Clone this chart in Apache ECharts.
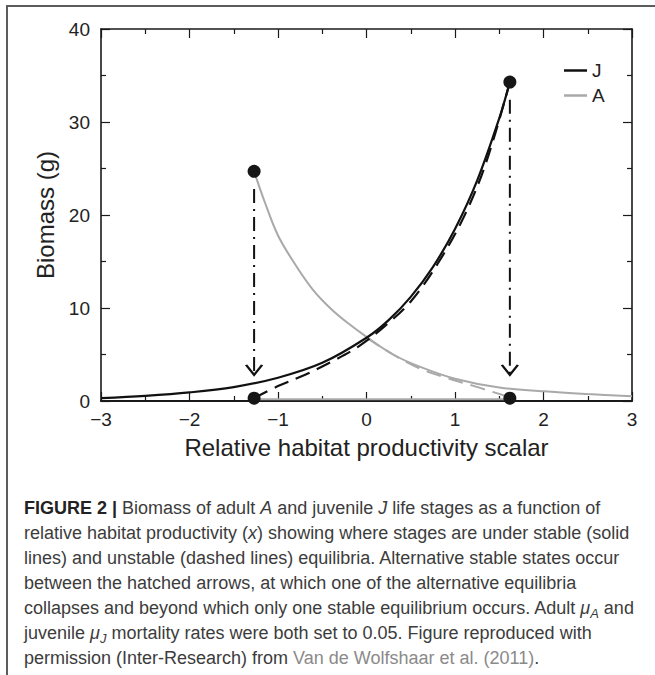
<!DOCTYPE html>
<html><head><meta charset="utf-8">
<script src="https://cdn.jsdelivr.net/npm/echarts@6/dist/echarts.min.js"></script>
<style>
html,body{margin:0;padding:0;background:#fff;}
#wrap{position:relative;width:655px;height:675px;overflow:hidden;background:#fff;}
#frame{position:absolute;left:6px;top:5px;right:-4px;bottom:-4px;border-top:2px solid #5c5c5c;border-left:2px solid #5c5c5c;}
#chart{position:absolute;left:0;top:0;width:655px;height:485px;}
#caption{position:absolute;left:24px;top:496px;font-family:"Liberation Sans",Arial,sans-serif;font-size:18px;line-height:25px;color:#3c3c3c;white-space:nowrap;}
#caption b{color:#222;}
#caption sub{font-size:0.72em;vertical-align:-0.3em;line-height:0;}
#caption .ref{color:#8a8a8a;}
</style></head>
<body>
<div id="wrap">
  <div id="frame"></div>
  <div id="chart"></div>
  <div id="caption">
    <b>FIGURE 2 |</b> Biomass of adult <i>A</i> and juvenile <i>J</i> life stages as a function of<br>
    relative habitat productivity (<i>x</i>) showing where stages are under stable (solid<br>
    lines) and unstable (dashed lines) equilibria. Alternative stable states occur<br>
    between the hatched arrows, at which one of the alternative equilibria<br>
    collapses and beyond which only one stable equilibrium occurs. Adult <i>μ<sub>A</sub></i> and<br>
    juvenile <i>μ<sub>J</sub></i> mortality rates were both set to 0.05. Figure reproduced with<br>
    permission (Inter-Research) from <span class="ref">Van de Wolfshaar et al. (2011)</span>.
  </div>
</div>
<script>
// ---- data ----
const xTickValues = [-3, -2, -1, 0, 1, 2, 3];
const yTickValues = [0, 10, 20, 30, 40];

// Juvenile J, stable (solid black)
const jStableX = [-3, -2.5, -2, -1.5, -1, -0.5, 0, 0.25, 0.5, 0.75, 1, 1.25, 1.5, 1.62];
const jStableY = [0.3, 0.55, 0.92, 1.5, 2.5, 4.1, 6.8, 8.7, 11.2, 14.4, 18.5, 23.7, 30.4, 34.3];
// Juvenile J, unstable (dashed black)
const jUnstX = [-1.27, -1.0, -0.7, -0.4, -0.1, 0.2, 0.5, 0.8, 1.1, 1.35, 1.62];
const jUnstY = [0.3, 1.6, 2.8, 4.2, 5.8, 8.0, 10.7, 14.7, 19.8, 25.6, 34.3];
// Adult A, stable (solid grey)
const aStableX = [-1.27, -1.15, -1.0, -0.8, -0.6, -0.4, -0.2, 0, 0.3, 0.6, 1.0, 1.5, 2.0, 2.5, 3.0];
const aStableY = [24.7, 21.4, 17.8, 14.6, 11.9, 9.9, 8.3, 6.9, 5.0, 3.7, 2.4, 1.45, 1.05, 0.75, 0.5];
// Adult A, unstable (dashed grey)
const aUnstX = [0, 0.3, 0.6, 0.9, 1.2, 1.4, 1.55, 1.62];
const aUnstY = [6.8, 5.0, 3.5, 2.5, 1.65, 1.05, 0.6, 0.3];
// Adult A, low branch near zero (grey)
const aLowX = [-1.27, 1.62];
const aLowY = [0.2, 0.2];
// Fold points (dots)
const dotX = [-1.27, -1.27, 1.62, 1.62];
const dotY = [24.7, 0.3, 34.3, 0.3];
// Hatched arrows
const arrowX = [-1.27, 1.62];
const arrowTop = [22.8, 32.4];
const arrowTip = [2.8, 2.8];

const zip = (xs, ys) => xs.map((x, i) => [x, ys[i]]);
const FONT = '"Liberation Sans", Arial, sans-serif';
const minus = v => (v < 0 ? '\u2212' + Math.abs(v) : String(v));

const chart = echarts.init(document.getElementById('chart'), null, {renderer: 'svg'});

const axisCommon = {
  axisLine: {show: true, onZero: false, lineStyle: {color: '#1a1a1a', width: 1.6}},
  axisTick: {show: true, inside: true, length: 9, lineStyle: {color: '#1a1a1a', width: 1.2}},
  minorTick: {show: true, splitNumber: 2, length: 5, lineStyle: {color: '#1a1a1a', width: 1.2}},
  splitLine: {show: false},
  minorSplitLine: {show: false}
};

const xMin = xTickValues[0], xMax = xTickValues[xTickValues.length - 1];
const yMin = yTickValues[0], yMax = yTickValues[yTickValues.length - 1];

const series = [
  {name: 'J', type: 'line', data: zip(jStableX, jStableY), color: '#111', smooth: 0.35,
   showSymbol: false, lineStyle: {color: '#111', width: 2.2}, z: 4},
  {name: 'J unstable', type: 'line', data: zip(jUnstX, jUnstY), color: '#111', smooth: 0.35,
   showSymbol: false, lineStyle: {color: '#111', width: 2.2, type: [15, 8]}, z: 4},
  {name: 'A', type: 'line', data: zip(aStableX, aStableY), color: '#a9a9a9', smooth: 0.35,
   showSymbol: false, lineStyle: {color: '#a9a9a9', width: 2}, z: 3},
  {name: 'A unstable', type: 'line', data: zip(aUnstX, aUnstY), color: '#a9a9a9', smooth: 0.35,
   showSymbol: false, lineStyle: {color: '#a9a9a9', width: 2, type: [15, 8]}, z: 3},
  {name: 'A low', type: 'line', data: zip(aLowX, aLowY), color: '#a9a9a9',
   showSymbol: false, lineStyle: {color: '#a9a9a9', width: 2}, z: 3}
];
arrowX.forEach((x, i) => {
  series.push({name: 'arrow' + i, type: 'line', data: [[x, arrowTop[i]], [x, arrowTip[i]]],
    showSymbol: false, color: '#111', lineStyle: {color: '#111', width: 2, type: [14, 6, 2, 6]}, z: 5});
});
series.push({name: 'arrowheads', type: 'scatter', data: zip(arrowX, arrowTip),
  symbol: 'path://M0,0 L8,9 L16,0', symbolSize: [16, 10], symbolOffset: [0, '-50%'],
  itemStyle: {color: 'none', borderColor: '#111', borderWidth: 2, opacity: 1}, z: 6});
series.push({name: 'folds', type: 'scatter', data: zip(dotX, dotY), symbol: 'circle',
  symbolSize: 13, itemStyle: {color: '#161616', opacity: 1}, z: 7});

chart.setOption({
  animation: false,
  textStyle: {fontFamily: FONT},
  grid: {left: 101, top: 29, width: 531, height: 372},
  legend: {
    data: ['J', 'A'], orient: 'vertical', left: 559, top: 56, itemGap: 6,
    icon: 'rect', itemWidth: 23, itemHeight: 2.5,
    textStyle: {fontSize: 19, color: '#222', fontFamily: FONT}
  },
  xAxis: [
    Object.assign({}, axisCommon, {
      type: 'value', position: 'bottom', min: xMin, max: xMax, interval: 1,
      axisLine: {show: true, onZero: false, lineStyle: {color: '#1a1a1a', width: 2.2}},
      axisLabel: {fontSize: 19, color: '#222', margin: 9, formatter: minus, fontFamily: FONT},
      name: 'Relative habitat productivity scalar', nameLocation: 'middle', nameGap: 34,
      nameTextStyle: {fontSize: 24, color: '#222', fontFamily: FONT}
    }),
    Object.assign({}, axisCommon, {
      type: 'value', position: 'top', min: xMin, max: xMax, interval: 1,
      axisLabel: {show: false}
    })
  ],
  yAxis: [
    Object.assign({}, axisCommon, {
      type: 'value', position: 'left', min: yMin, max: yMax, interval: 10,
      axisLabel: {fontSize: 19, color: '#222', margin: 11, fontFamily: FONT},
      name: 'Biomass (g)', nameLocation: 'middle', nameGap: 44,
      nameTextStyle: {fontSize: 24, color: '#222', fontFamily: FONT}
    }),
    Object.assign({}, axisCommon, {
      type: 'value', position: 'right', min: yMin, max: yMax, interval: 10,
      axisLabel: {show: false}
    })
  ],
  series: series
});
</script>
</body></html>
